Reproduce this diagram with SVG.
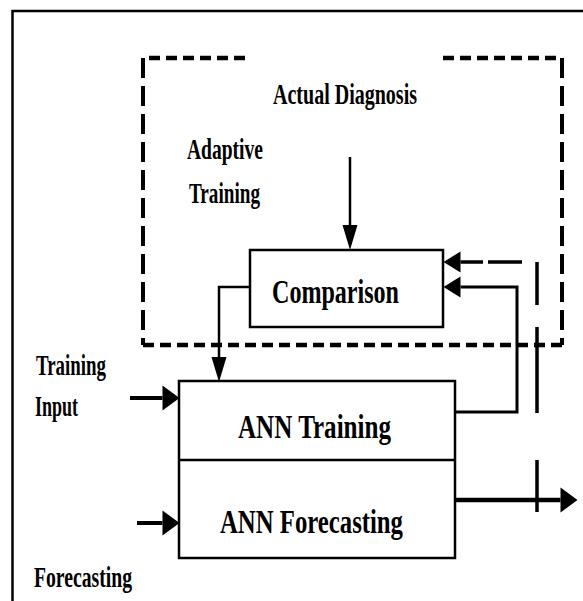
<svg xmlns="http://www.w3.org/2000/svg" width="583" height="601" viewBox="0 0 583 601">
<style>
.t{font-family:"Liberation Serif","Times New Roman",serif;font-weight:bold;fill:#000}
.box{fill:none;stroke:#000;stroke-width:2.5}
.ln{fill:none;stroke:#000}
.dh{fill:none;stroke:#000;stroke-width:4.5;stroke-dasharray:11 6}
.dv{fill:none;stroke:#000;stroke-width:4;stroke-dasharray:20 8}
</style>
<defs>
<marker id="big" markerUnits="userSpaceOnUse" markerWidth="18" markerHeight="26" refX="0" refY="12.5" orient="auto" overflow="visible"><path d="M0,0 L17,12.5 L0,25 z" fill="#000"/></marker>
<marker id="fb" markerUnits="userSpaceOnUse" markerWidth="18" markerHeight="22" refX="0" refY="10.5" orient="auto" overflow="visible"><path d="M0,0 L17,10.5 L0,21 z" fill="#000"/></marker>
<marker id="dn" markerUnits="userSpaceOnUse" markerWidth="26" markerHeight="16" refX="0" refY="7.5" orient="auto" overflow="visible"><path d="M0,0 L25,7.5 L0,15 z" fill="#000"/></marker>
</defs>
<rect width="583" height="601" fill="#fff"/>
<g id="frame">
<path d="M12.5,601 V11 H583" class="ln" stroke-width="2.5"/>
</g>
<g id="adaptive-training">
<path d="M245,58 H143" class="dh"/>
<path d="M443,58 H562" class="dh"/>
<path d="M143,345 H562" class="dh"/>
<path d="M143,58 V345" class="dv"/>
<path d="M562,58 V345" class="dv"/>
<text class="t" x="187" y="159" font-size="29" textLength="76" lengthAdjust="spacingAndGlyphs">Adaptive</text>
<text class="t" x="189" y="203" font-size="29" textLength="71" lengthAdjust="spacingAndGlyphs">Training</text>
</g>
<g id="actual-diagnosis">
<text class="t" x="273" y="104" font-size="30" textLength="144" lengthAdjust="spacingAndGlyphs">Actual Diagnosis</text>
</g>
<g id="comparison">
<rect x="250" y="250" width="193" height="77" class="box"/>
<text class="t" x="272" y="303" font-size="34" textLength="127" lengthAdjust="spacingAndGlyphs">Comparison</text>
</g>
<g id="ann">
<rect x="179" y="381" width="276" height="177" class="box"/>
<path d="M179,460 H455" class="ln" stroke-width="2.5"/>
<text class="t" x="238" y="438" font-size="33" textLength="153" lengthAdjust="spacingAndGlyphs">ANN Training</text>
<text class="t" x="220" y="533" font-size="33" textLength="183" lengthAdjust="spacingAndGlyphs">ANN Forecasting</text>
</g>
<g id="training-input">
<text class="t" x="36" y="375" font-size="30" textLength="70" lengthAdjust="spacingAndGlyphs">Training</text>
<text class="t" x="35" y="416" font-size="30" textLength="43" lengthAdjust="spacingAndGlyphs">Input</text>
</g>
<g id="forecasting-input">
<text class="t" x="34" y="587" font-size="30" textLength="98" lengthAdjust="spacingAndGlyphs">Forecasting</text>
</g>
<g id="connectors">
<path d="M350,157 V225" class="ln" stroke-width="2.5" marker-end="url(#dn)"/>
<path d="M250,287 H219 V357" class="ln" stroke-width="2.5" marker-end="url(#dn)"/>
<path d="M130,398 H162.5" class="ln" stroke-width="4" marker-end="url(#big)"/>
<path d="M137,523 H162.5" class="ln" stroke-width="4" marker-end="url(#big)"/>
<path d="M455,500 H560.5" class="ln" stroke-width="4.5" marker-end="url(#big)"/>
<path d="M455,412 H517 V287 H460.5" class="ln" stroke-width="3" marker-end="url(#fb)"/>
<path d="M537,512 V262 H460.5" class="ln" stroke-width="3.5" stroke-dasharray="52 47 86 22 43 15 34 5 23" marker-end="url(#fb)"/>
</g>
</svg>
